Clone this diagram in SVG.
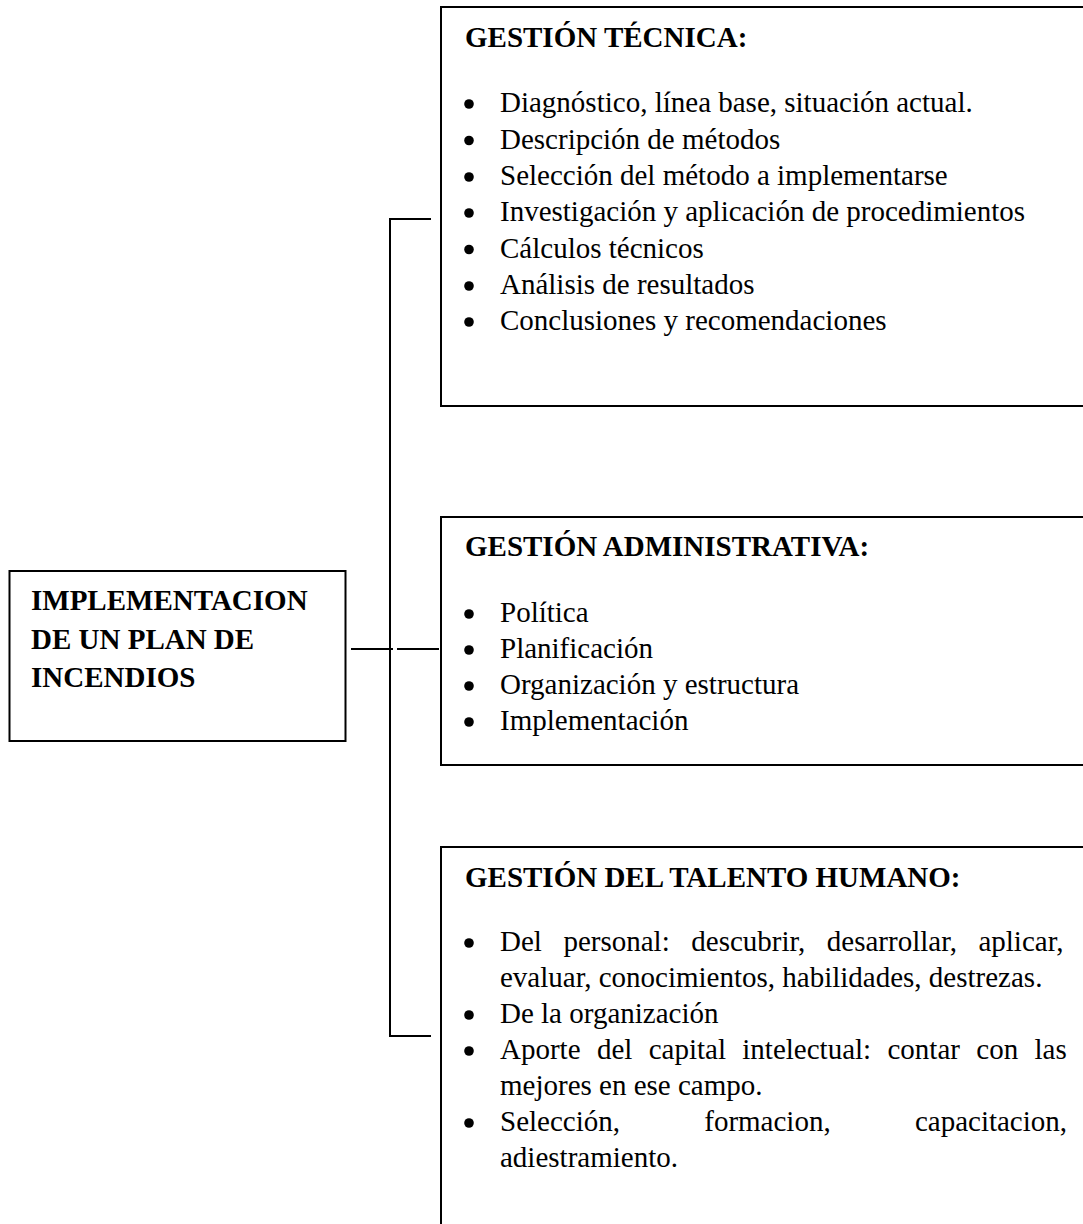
<svg xmlns="http://www.w3.org/2000/svg" width="1083" height="1224" viewBox="0 0 1083 1224">
<style>
.box{fill:#fff;stroke:#000;stroke-width:2}
.ln{fill:none;stroke:#000;stroke-width:2}
.t{font-family:"Liberation Serif","Times New Roman",serif;font-size:29px;fill:#000}
.b{font-weight:bold}
.bul{fill:#000}
</style>
<defs><circle id="dot" class="bul" r="4.8"/></defs>
<rect width="1083" height="1224" fill="#fff"/>
<g id="connectors">
<path class="ln" d="M431,219 H390 V1036 H431"/>
<path class="ln" d="M351,649 H393 M397,649 H439"/>
</g>
<g id="root">
<rect class="box" x="9.5" y="571" width="336" height="170"/>
<text class="t b" x="31" y="610">IMPLEMENTACION</text>
<text class="t b" x="31" y="648.5">DE UN PLAN DE</text>
<text class="t b" x="31" y="687">INCENDIOS</text>
</g>
<g id="tecnica">
<rect class="box" x="441" y="7" width="700" height="399"/>
<text class="t b" x="465" y="47">GESTIÓN TÉCNICA:</text>
<use href="#dot" x="469" y="104"/><text class="t" x="500" y="112">Diagnóstico, línea base, situación actual.</text>
<use href="#dot" x="469" y="140.5"/><text class="t" x="500" y="148.5">Descripción de métodos</text>
<use href="#dot" x="469" y="177"/><text class="t" x="500" y="185">Selección del método a implementarse</text>
<use href="#dot" x="469" y="213"/><text class="t" x="500" y="221">Investigación y aplicación de procedimientos</text>
<use href="#dot" x="469" y="249.5"/><text class="t" x="500" y="257.5">Cálculos técnicos</text>
<use href="#dot" x="469" y="286"/><text class="t" x="500" y="294">Análisis de resultados</text>
<use href="#dot" x="469" y="322"/><text class="t" x="500" y="330">Conclusiones y recomendaciones</text>
</g>
<g id="administrativa">
<rect class="box" x="441" y="517" width="700" height="248"/>
<text class="t b" x="465" y="556">GESTIÓN ADMINISTRATIVA:</text>
<use href="#dot" x="469" y="614"/><text class="t" x="500" y="622">Política</text>
<use href="#dot" x="469" y="650"/><text class="t" x="500" y="658">Planificación</text>
<use href="#dot" x="469" y="686"/><text class="t" x="500" y="694">Organización y estructura</text>
<use href="#dot" x="469" y="722"/><text class="t" x="500" y="730">Implementación</text>
</g>
<g id="talento">
<rect class="box" x="441" y="847" width="700" height="500"/>
<text class="t b" x="465" y="887">GESTIÓN DEL TALENTO HUMANO:</text>
<use href="#dot" x="469" y="943"/><text class="t" x="500" y="951" word-spacing="14.3">Del personal: descubrir, desarrollar, aplicar,</text>
<text class="t" x="500" y="987">evaluar, conocimientos, habilidades, destrezas.</text>
<use href="#dot" x="469" y="1015"/><text class="t" x="500" y="1023">De la organización</text>
<use href="#dot" x="469" y="1051"/><text class="t" x="500" y="1059" word-spacing="9.1">Aporte del capital intelectual: contar con las</text>
<text class="t" x="500" y="1095">mejores en ese campo.</text>
<use href="#dot" x="469" y="1123"/><text class="t" x="500" y="1131" word-spacing="77">Selección, formacion, capacitacion,</text>
<text class="t" x="500" y="1167">adiestramiento.</text>
</g>
</svg>
